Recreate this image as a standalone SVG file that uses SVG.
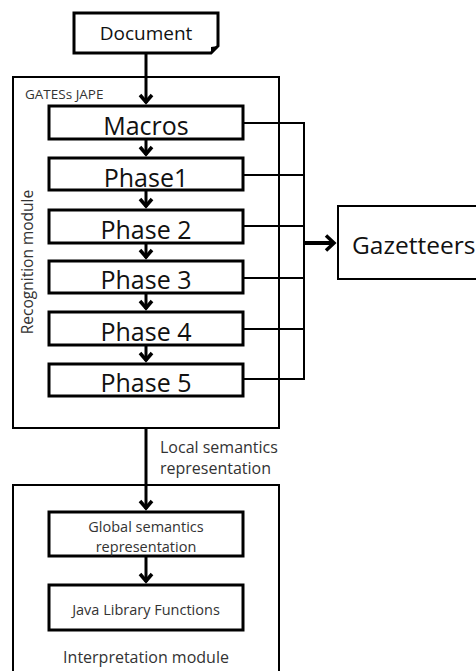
<svg xmlns="http://www.w3.org/2000/svg" width="476" height="671" viewBox="0 0 476 671">
  <style>
    .frame { fill: #fff; stroke: #000; stroke-width: 2; }
    .box { fill: #fff; stroke: #000; stroke-width: 3; }
    .line { fill: none; stroke: #000; stroke-width: 2; }
    .flow { fill: none; stroke: #000; stroke-width: 3; }
    .chev { fill: none; stroke: #000; stroke-width: 3.5; stroke-linejoin: miter; stroke-linecap: butt; }
    .t { font-family: "Open Sans", "Liberation Sans", sans-serif; fill: #111; }
    .s { font-family: "Open Sans", "Liberation Sans", sans-serif; fill: #333; }
    .head { fill: #000; }
  </style>

  <rect width="476" height="671" fill="#fff"/>

  <!-- outer module frames -->
  <g id="recognition-module">
    <rect class="frame" x="13" y="77" width="266" height="351"/>
    <text class="s" x="25" y="99" font-size="13.5">GATESs JAPE</text>
    <text class="s" font-size="15.5" text-anchor="middle" transform="translate(33,262) rotate(-90)">Recognition module</text>
  </g>

  <g id="interpretation-module">
    <rect class="frame" x="13" y="485" width="266" height="200"/>
    <text class="s" x="146" y="663" font-size="16" text-anchor="middle">Interpretation module</text>
  </g>

  <!-- connectors -->
  <g id="connectors">
    <!-- main vertical flow -->
    <line class="flow" x1="146" y1="53" x2="146" y2="103"/>
    <line class="flow" x1="146" y1="139" x2="146" y2="155"/>
    <line class="flow" x1="146" y1="190" x2="146" y2="207"/>
    <line class="flow" x1="146" y1="243" x2="146" y2="258"/>
    <line class="flow" x1="146" y1="293" x2="146" y2="309"/>
    <line class="flow" x1="146" y1="345" x2="146" y2="361"/>
    <line class="flow" x1="146" y1="428" x2="146" y2="509"/>
    <line class="flow" x1="146" y1="556" x2="146" y2="582"/>
    <polyline class="chev" points="140,95 146,102 152,95"/>
    <polyline class="chev" points="140,147 146,154 152,147"/>
    <polyline class="chev" points="140,199 146,206 152,199"/>
    <polyline class="chev" points="140,250 146,257 152,250"/>
    <polyline class="chev" points="140,301 146,308 152,301"/>
    <polyline class="chev" points="140,353 146,360 152,353"/>
    <polyline class="chev" points="140,501 146,508 152,501"/>
    <polyline class="chev" points="140,574 146,581 152,574"/>

    <!-- phase outputs to the gazetteer bus -->
    <line class="line" x1="243" y1="123" x2="305" y2="123"/>
    <line class="line" x1="243" y1="175" x2="305" y2="175"/>
    <line class="line" x1="243" y1="226" x2="305" y2="226"/>
    <line class="line" x1="243" y1="278" x2="305" y2="278"/>
    <line class="line" x1="243" y1="329" x2="305" y2="329"/>
    <line class="line" x1="243" y1="379" x2="305" y2="379"/>
    <line class="line" x1="304" y1="122" x2="304" y2="380"/>
    <line x1="304" y1="243" x2="333" y2="243" stroke="#000" stroke-width="4"/>
    <polyline class="chev" points="326,235.5 334,243 326,250.5" stroke-width="4"/>
  </g>

  <!-- nodes -->
  <g id="document">
    <path class="box" d="M74,13 H218 V46 L211,53 H74 Z"/>
    <path class="head" d="M211,53 L218,46 L211,47 Z"/>
    <text class="t" x="146" y="40" font-size="19" text-anchor="middle">Document</text>
  </g>

  <g id="macros">
    <rect class="box" x="49" y="106" width="194" height="33"/>
    <text class="t" x="146" y="135" font-size="25" text-anchor="middle">Macros</text>
  </g>
  <g id="phase1">
    <rect class="box" x="49" y="158" width="194" height="32"/>
    <text class="t" x="146" y="186.5" font-size="25" text-anchor="middle">Phase1</text>
  </g>
  <g id="phase2">
    <rect class="box" x="49" y="210" width="194" height="33"/>
    <text class="t" x="146" y="238.5" font-size="25" text-anchor="middle">Phase 2</text>
  </g>
  <g id="phase3">
    <rect class="box" x="49" y="261" width="194" height="32"/>
    <text class="t" x="146" y="289" font-size="25" text-anchor="middle">Phase 3</text>
  </g>
  <g id="phase4">
    <rect class="box" x="49" y="312" width="194" height="33"/>
    <text class="t" x="146" y="340.5" font-size="25" text-anchor="middle">Phase 4</text>
  </g>
  <g id="phase5">
    <rect class="box" x="49" y="364" width="194" height="32"/>
    <text class="t" x="146" y="392" font-size="25" text-anchor="middle">Phase 5</text>
  </g>

  <g id="gazetteers">
    <rect class="frame" x="338" y="206" width="150" height="73"/>
    <text class="t" x="352" y="254" font-size="24.5">Gazetteers</text>
  </g>

  <g id="local-semantics-label">
    <text class="s" x="160" y="453" font-size="16">Local semantics</text>
    <text class="s" x="160" y="474" font-size="16">representation</text>
  </g>

  <g id="global-semantics">
    <rect class="box" x="49" y="512" width="194" height="44"/>
    <text class="s" x="146" y="532" font-size="14.5" text-anchor="middle">Global semantics</text>
    <text class="s" x="146" y="552" font-size="14.5" text-anchor="middle">representation</text>
  </g>

  <g id="java-library">
    <rect class="box" x="49" y="585" width="194" height="45"/>
    <text class="s" x="146" y="615" font-size="14.5" text-anchor="middle">Java Library Functions</text>
  </g>
</svg>
